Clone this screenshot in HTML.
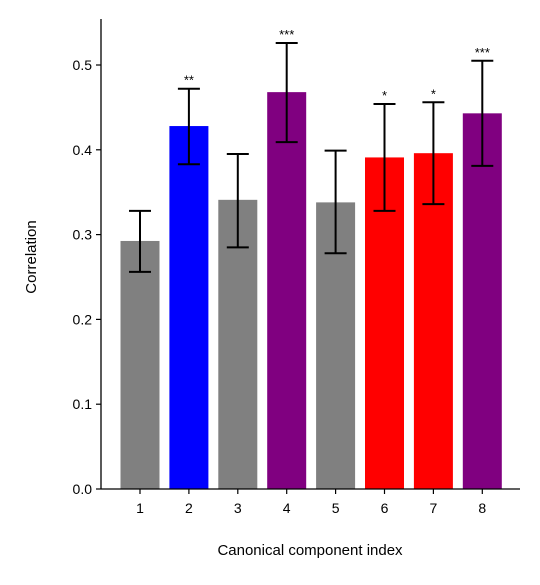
<!DOCTYPE html>
<html><head><meta charset="utf-8"><style>
body{margin:0;background:#fff;}
svg text{font-family:"Liberation Sans",Arial,sans-serif;fill:#000;}
</style></head><body>
<svg id="chart" width="540" height="580" xmlns="http://www.w3.org/2000/svg"></svg>
<script>
const categories=["1","2","3","4","5","6","7","8"];
const values=[0.2925,0.428,0.341,0.468,0.338,0.391,0.396,0.443];
const errLow=[0.256,0.383,0.285,0.409,0.278,0.328,0.336,0.381];
const errHigh=[0.328,0.472,0.395,0.526,0.399,0.454,0.456,0.505];
const colors=["#808080","#0000ff","#808080","#800080","#808080","#ff0000","#ff0000","#800080"];
const stars=["","**","","***","","*","*","***"];
const yTicks=[0,0.1,0.2,0.3,0.4,0.5];
const yTickLabels=["0.0","0.1","0.2","0.3","0.4","0.5"];

const NS="http://www.w3.org/2000/svg";
const svg=document.getElementById('chart');
const X0=101,X1=520,Y0=489,Ytop=19;
const y=v=>Y0-v*848;
const x=i=>140+i*48.9;
const bw=39;
function mk(t,a,txt){const e=document.createElementNS(NS,t);for(const k in a)e.setAttribute(k,a[k]);if(txt!==undefined)e.textContent=txt;svg.appendChild(e);return e;}

categories.forEach((c,i)=>{
  let r=mk('rect',{x:x(i)-bw/2,y:y(values[i]),width:bw,height:Y0-y(values[i]),fill:colors[i]});
  
  
  let g=mk('g',{stroke:'#000','stroke-width':2});
  
  
  const l=document.createElementNS(NS,'line');
  [[x(i),y(errLow[i]),x(i),y(errHigh[i])],[x(i)-11,y(errLow[i]),x(i)+11,y(errLow[i])],[x(i)-11,y(errHigh[i]),x(i)+11,y(errHigh[i])]].forEach(p=>{
    const ln=document.createElementNS(NS,'line');
    ln.setAttribute('x1',p[0]);ln.setAttribute('y1',p[1]);ln.setAttribute('x2',p[2]);ln.setAttribute('y2',p[3]);g.appendChild(ln);});
  if(stars[i]){
    let s=mk('text',{x:x(i),y:y(errHigh[i])-4,'text-anchor':'middle','font-size':13},stars[i]);
    
    
  }
  mk('line',{x1:x(i),y1:Y0,x2:x(i),y2:Y0+5,stroke:'#000','stroke-width':1.2});
  let t=mk('text',{x:x(i),y:Y0+24,'text-anchor':'middle','font-size':14},c);
  
  
});
yTicks.forEach((v,i)=>{
  mk('line',{x1:X0-5,y1:y(v),x2:X0,y2:y(v),stroke:'#000','stroke-width':1.2});
  let t=mk('text',{x:X0-9,y:y(v)+5,'text-anchor':'end','font-size':14},yTickLabels[i]);
  
  
});
let ax=mk('line',{x1:X0,y1:Ytop,x2:X0,y2:Y0,stroke:'#000','stroke-width':1.3});

let bx=mk('line',{x1:X0,y1:Y0,x2:X1,y2:Y0,stroke:'#000','stroke-width':1.3});

let xt=mk('text',{x:310,y:555,'text-anchor':'middle','font-size':15},'Canonical component index');

let yt=mk('text',{x:36,y:257,'text-anchor':'middle','font-size':15,transform:'rotate(-90 36 257)'},'Correlation');

</script>
</body></html>
